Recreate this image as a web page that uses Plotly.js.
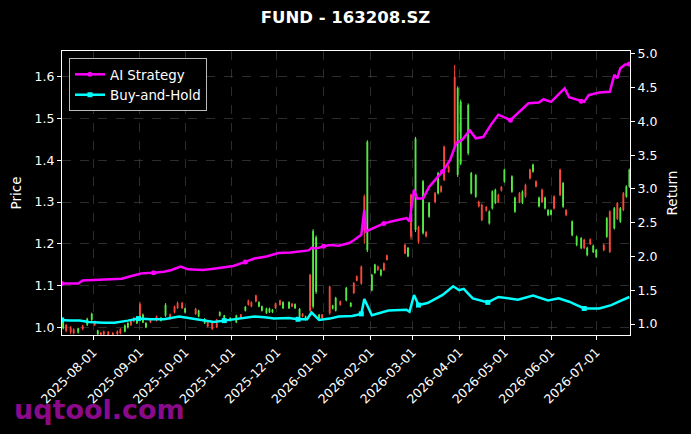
<!DOCTYPE html>
<html>
<head>
<meta charset="utf-8">
<script src="https://cdn.plot.ly/plotly-3.0.1.min.js"></script>
<style>html,body{margin:0;padding:0;background:#000;}#chart{width:691px;height:434px;}</style>
</head>
<body>
<div id="chart"></div>
<script>
const candleDates = ["2025-07-12","2025-07-14","2025-07-17","2025-07-19","2025-07-22","2025-07-25","2025-07-28","2025-07-31",
"2025-08-02","2025-08-04","2025-08-06","2025-08-08","2025-08-11","2025-08-14","2025-08-17","2025-08-19","2025-08-22","2025-08-24","2025-08-26","2025-08-28","2025-08-30",
"2025-09-01","2025-09-03","2025-09-05","2025-09-08","2025-09-12","2025-09-15","2025-09-18","2025-09-21","2025-09-24","2025-09-26","2025-09-29",
"2025-10-01","2025-10-08","2025-10-10","2025-10-14","2025-10-16","2025-10-19","2025-10-22","2025-10-24","2025-10-27","2025-10-31",
"2025-11-04","2025-11-07","2025-11-10","2025-11-12","2025-11-14","2025-11-17","2025-11-19","2025-11-21","2025-11-24","2025-11-26","2025-11-28","2025-11-30",
"2025-12-03","2025-12-05","2025-12-09","2025-12-11","2025-12-13","2025-12-16","2025-12-18","2025-12-20","2025-12-23","2025-12-25","2025-12-27","2025-12-29","2025-12-31",
"2026-01-05","2026-01-07","2026-01-09","2026-01-12","2026-01-16","2026-01-19","2026-01-21","2026-01-23","2026-01-26","2026-01-28","2026-01-30",
"2026-02-02","2026-02-04","2026-02-06","2026-02-08","2026-02-10","2026-02-12","2026-02-24","2026-02-26","2026-02-28",
"2026-03-03","2026-03-05","2026-03-08","2026-03-10","2026-03-12","2026-03-16","2026-03-18","2026-03-20","2026-03-22","2026-03-25","2026-03-29","2026-03-31",
"2026-04-02","2026-04-07","2026-04-09","2026-04-12","2026-04-14","2026-04-16","2026-04-19","2026-04-21","2026-04-23","2026-04-25","2026-04-27","2026-04-29",
"2026-05-01","2026-05-06","2026-05-08","2026-05-11","2026-05-13","2026-05-15","2026-05-18","2026-05-20","2026-05-22","2026-05-24","2026-05-26","2026-05-28","2026-05-30",
"2026-06-01","2026-06-03","2026-06-07","2026-06-09","2026-06-11","2026-06-15","2026-06-18","2026-06-21","2026-06-23","2026-06-25","2026-06-27","2026-06-29",
"2026-07-01","2026-07-06","2026-07-08","2026-07-10","2026-07-13","2026-07-15","2026-07-17","2026-07-19","2026-07-21","2026-07-23"];
const openPx = [0.998,1.005,1.000,0.995,0.988,1.004,1.006,1.018,
1.014,0.984,0.987,0.990,0.989,0.986,0.990,0.995,0.990,1.000,1.015,1.022,1.010,
1.055,1.012,1.000,1.018,1.026,1.016,1.028,1.030,1.050,1.058,1.058,
1.036,1.044,1.026,1.010,1.015,1.010,1.018,1.028,1.020,1.016,
1.012,1.030,1.040,1.064,1.060,1.076,1.050,1.040,1.034,1.036,1.036,1.057,
1.064,1.046,1.046,1.056,1.046,1.026,1.032,1.018,1.125,1.050,1.085,1.022,1.030,
1.097,1.045,1.040,1.062,1.065,1.050,1.106,1.122,1.145,1.313,1.185,
1.089,1.130,1.145,1.125,1.153,1.172,1.197,1.170,1.317,
1.233,1.240,1.226,1.228,1.265,1.321,1.321,1.337,1.432,1.385,1.600,1.365,
1.392,1.417,1.321,1.313,1.300,1.293,1.288,1.249,1.285,1.298,1.317,1.336,
1.349,1.325,1.277,1.321,1.298,1.341,1.377,1.373,1.349,1.290,1.329,1.285,1.269,
1.270,1.313,1.377,1.289,1.280,1.221,1.197,1.190,1.209,1.173,1.210,1.180,
1.169,1.197,1.217,1.277,1.237,1.297,1.253,1.321,1.313,1.337];
const highPx = [1.017,1.008,1.003,0.998,0.999,1.006,1.023,1.035,
1.016,0.994,0.989,0.992,0.991,0.989,0.993,0.998,1.007,1.012,1.018,1.025,1.023,
1.061,1.033,1.012,1.020,1.028,1.025,1.058,1.033,1.052,1.062,1.061,
1.047,1.047,1.042,1.022,1.017,1.013,1.020,1.038,1.030,1.024,
1.030,1.032,1.051,1.066,1.062,1.078,1.062,1.052,1.047,1.047,1.044,1.059,
1.066,1.062,1.062,1.058,1.057,1.046,1.034,1.028,1.128,1.235,1.220,1.032,1.032,
1.100,1.054,1.073,1.064,1.097,1.060,1.108,1.124,1.148,1.318,1.448,
1.128,1.152,1.148,1.140,1.155,1.174,1.200,1.192,1.320,
1.456,1.243,1.353,1.230,1.300,1.324,1.372,1.340,1.435,1.388,1.628,1.577,
1.545,1.536,1.372,1.367,1.303,1.296,1.290,1.280,1.328,1.332,1.320,1.338,
1.380,1.364,1.313,1.324,1.328,1.344,1.380,1.392,1.352,1.313,1.332,1.313,1.283,
1.282,1.316,1.380,1.348,1.283,1.256,1.220,1.216,1.212,1.193,1.213,1.198,
1.188,1.200,1.264,1.280,1.288,1.300,1.288,1.324,1.340,1.380];
const lowPx = [0.995,0.988,0.984,0.983,0.985,0.993,1.003,1.015,
1.003,0.981,0.980,0.981,0.980,0.980,0.981,0.983,0.988,0.997,1.003,1.012,1.008,
1.022,1.010,0.998,1.010,1.014,1.014,1.025,1.018,1.033,1.044,1.044,
1.033,1.030,1.024,1.008,1.000,0.994,0.998,1.026,1.018,1.014,
1.010,1.022,1.038,1.052,1.048,1.060,1.048,1.038,1.032,1.034,1.034,1.044,
1.052,1.044,1.044,1.048,1.044,1.023,1.024,1.016,1.035,1.045,1.080,1.020,1.020,
1.030,1.043,1.038,1.052,1.062,1.048,1.080,1.110,1.102,1.200,1.180,
1.086,1.128,1.135,1.122,1.135,1.160,1.175,1.168,1.210,
1.228,1.200,1.222,1.215,1.262,1.297,1.318,1.322,1.350,1.370,1.428,1.360,
1.388,1.412,1.318,1.310,1.287,1.254,1.277,1.246,1.282,1.295,1.298,1.325,
1.346,1.322,1.274,1.297,1.295,1.310,1.354,1.370,1.335,1.287,1.297,1.282,1.266,
1.268,1.282,1.314,1.286,1.266,1.218,1.194,1.187,1.187,1.170,1.197,1.178,
1.166,1.182,1.214,1.178,1.234,1.257,1.250,1.278,1.310,1.334];
const closePx = [1.012,0.992,0.988,0.986,0.997,0.996,1.020,1.032,
1.006,0.992,0.982,0.983,0.982,0.982,0.984,0.986,1.004,1.010,1.006,1.015,1.020,
1.025,1.030,1.010,1.012,1.016,1.022,1.054,1.020,1.036,1.046,1.046,
1.045,1.032,1.040,1.020,1.002,0.996,1.000,1.036,1.028,1.022,
1.028,1.024,1.049,1.054,1.050,1.062,1.060,1.050,1.045,1.045,1.042,1.046,
1.054,1.060,1.060,1.050,1.055,1.044,1.026,1.026,1.040,1.230,1.215,1.030,1.022,
1.034,1.052,1.070,1.054,1.094,1.058,1.082,1.112,1.105,1.233,1.444,
1.125,1.150,1.138,1.137,1.137,1.162,1.177,1.190,1.217,
1.452,1.205,1.349,1.218,1.297,1.300,1.369,1.325,1.353,1.372,1.432,1.573,
1.540,1.532,1.369,1.364,1.290,1.257,1.280,1.277,1.325,1.329,1.300,1.328,
1.377,1.361,1.310,1.300,1.325,1.313,1.357,1.389,1.337,1.310,1.300,1.310,1.280,
1.280,1.285,1.317,1.345,1.269,1.253,1.217,1.213,1.190,1.190,1.200,1.195,
1.185,1.185,1.261,1.181,1.285,1.260,1.285,1.281,1.337,1.377];

const aiDates = ["2025-07-11","2025-07-16","2025-07-22","2025-07-25","2025-08-05","2025-08-15","2025-08-20","2025-08-27","2025-09-02","2025-09-10","2025-09-17","2025-09-22","2025-09-28",
"2025-10-03","2025-10-13","2025-10-20","2025-10-27","2025-11-02","2025-11-10","2025-11-16","2025-11-24","2025-12-02","2025-12-10","2025-12-15","2025-12-22","2025-12-24","2025-12-27",
"2026-01-01","2026-01-05","2026-01-11","2026-01-18","2026-01-21","2026-01-26","2026-01-28","2026-01-29","2026-02-03","2026-02-10","2026-02-17","2026-02-25","2026-02-27",
"2026-03-02","2026-03-04","2026-03-08","2026-03-12","2026-03-18","2026-03-21","2026-03-26","2026-03-30","2026-04-03","2026-04-08","2026-04-12","2026-04-17","2026-04-22","2026-04-27",
"2026-05-05","2026-05-10","2026-05-17","2026-05-24","2026-05-27","2026-06-01","2026-06-08","2026-06-10","2026-06-13","2026-06-21","2026-06-23","2026-06-26",
"2026-07-03","2026-07-10","2026-07-13","2026-07-15","2026-07-17","2026-07-20","2026-07-23"];
const aiReturn = [1.60,1.595,1.60,1.645,1.655,1.662,1.67,1.715,1.75,1.76,1.775,1.80,1.85,
1.81,1.80,1.82,1.84,1.86,1.92,1.97,2.00,2.05,2.06,2.07,2.09,2.13,2.12,
2.15,2.17,2.16,2.20,2.24,2.32,2.69,2.37,2.42,2.49,2.53,2.57,2.52,
2.99,2.86,2.86,3.03,3.18,3.26,3.43,3.68,3.73,3.87,3.75,3.77,3.95,4.10,
4.02,4.12,4.27,4.28,4.33,4.29,4.44,4.49,4.36,4.30,4.29,4.39,
4.43,4.44,4.69,4.64,4.79,4.84,4.85];

const bhDates = ["2025-07-11","2025-07-16","2025-07-23","2025-07-29","2025-08-08","2025-08-15","2025-08-24","2025-08-31","2025-09-08","2025-09-17","2025-09-27",
"2025-10-03","2025-10-10","2025-10-20","2025-10-27","2025-11-02","2025-11-10","2025-11-16","2025-11-23","2025-11-29","2025-12-09","2025-12-15","2025-12-21","2025-12-24","2025-12-29",
"2026-01-05","2026-01-11","2026-01-20","2026-01-26","2026-01-28","2026-02-02","2026-02-13","2026-02-25","2026-02-27",
"2026-03-02","2026-03-05","2026-03-11","2026-03-21","2026-03-28","2026-04-01","2026-04-04","2026-04-10","2026-04-20","2026-04-27",
"2026-05-10","2026-05-20","2026-05-30","2026-06-06","2026-06-13","2026-06-23","2026-07-03","2026-07-11","2026-07-16","2026-07-23"];
const bhReturn = [1.06,1.05,1.05,1.03,1.02,1.02,1.05,1.08,1.07,1.07,1.11,
1.09,1.07,1.03,1.05,1.07,1.09,1.11,1.10,1.08,1.09,1.07,1.07,1.17,1.06,
1.08,1.11,1.12,1.15,1.37,1.13,1.20,1.21,1.18,
1.43,1.28,1.31,1.43,1.56,1.50,1.52,1.38,1.32,1.40,
1.36,1.42,1.35,1.38,1.33,1.23,1.23,1.28,1.33,1.40];

const monthTicks = ["2025-08-01","2025-09-01","2025-10-01","2025-11-01","2025-12-01","2026-01-01","2026-02-01","2026-03-01","2026-04-01","2026-05-01","2026-06-01","2026-07-01"];

const FONT = "DejaVu Sans";
const everyNth = (arr, n) => arr.filter((_, i) => i % n === 0);

function seriesTraces(name, dates, vals, color, symbol, step) {
  return [
    {type: "scatter", mode: "lines", x: dates, y: vals, yaxis: "y2",
     line: {color: color, width: 2.5}, showlegend: false, hoverinfo: "skip"},
    {type: "scatter", mode: "markers", x: everyNth(dates, step), y: everyNth(vals, step), yaxis: "y2",
     marker: {color: color, symbol: symbol, size: 5}, showlegend: false, hoverinfo: "skip"},
    {type: "scatter", mode: "lines+markers", name: name, x: [null], y: [null], yaxis: "y2",
     line: {color: color, width: 2.5}, marker: {color: color, symbol: symbol, size: 5}, showlegend: true}
  ];
}

const traces = [
  {
    type: "candlestick",
    x: candleDates, open: openPx, high: highPx, low: lowPx, close: closePx,
    increasing: {line: {color: "#55ee44", width: 1}, fillcolor: "#55ee44"},
    decreasing: {line: {color: "#ff4a3d", width: 1}, fillcolor: "#ff4a3d"},
    showlegend: false, yaxis: "y", hoverinfo: "skip"
  }
].concat(
  seriesTraces("AI Strategy", aiDates, aiReturn, "#ff00ff", "circle", 9),
  seriesTraces("Buy-and-Hold", bhDates, bhReturn, "#00ffff", "square", 7)
);

const axisFont = {family: FONT, size: 12.5, color: "#ffffff"};

const layout = {
  width: 691, height: 434,
  paper_bgcolor: "#000000", plot_bgcolor: "#000000",
  margin: {l: 62, r: 61, t: 51, b: 99, pad: 0},
  font: {family: FONT, color: "#ffffff", size: 12},
  boxgap: 0.6,
  title: {text: "FUND - 163208.SZ", font: {family: FONT, size: 16.5, color: "#ffffff", weight: "bold"},
          x: 0.5, xanchor: "center", y: 0.96, yanchor: "middle", yref: "container"},
  showlegend: true,
  legend: {x: 0.0123, y: 0.975, xanchor: "left", yanchor: "top",
           bgcolor: "#000000", bordercolor: "#bbbbbb", borderwidth: 1,
           font: {family: FONT, size: 13.4, color: "#ffffff"},
           tracegroupgap: 0, itemwidth: 30},
  xaxis: {
    type: "date", range: ["2025-07-11 06:00", "2026-07-23 10:00"],
    tickvals: monthTicks, tickformat: "%Y-%m-%d", tickangle: -45,
    tickfont: axisFont, ticks: "outside", ticklen: 4, tickcolor: "#ffffff",
    showgrid: true, gridcolor: "#4a4a4a", griddash: "dash", gridwidth: 0.6,
    showline: true, linecolor: "#ffffff", linewidth: 1, mirror: true,
    zeroline: false, rangeslider: {visible: false}, fixedrange: true
  },
  yaxis: {
    range: [0.9816, 1.6615], dtick: 0.1, tick0: 1.0, tickformat: ".1f",
    tickfont: axisFont, ticks: "outside", ticklen: 4, tickcolor: "#ffffff",
    title: {text: "Price", font: {family: FONT, size: 13.5, color: "#ffffff"}, standoff: 9},
    showgrid: true, gridcolor: "#4a4a4a", griddash: "dash", gridwidth: 0.6,
    showline: true, linecolor: "#ffffff", linewidth: 1, mirror: true, zeroline: false
  },
  yaxis2: {
    overlaying: "y", side: "right",
    range: [0.837, 5.044], dtick: 0.5, tick0: 1.0, tickformat: ".1f",
    tickfont: axisFont, ticks: "outside", ticklen: 4, tickcolor: "#ffffff",
    title: {text: "Return", font: {family: FONT, size: 13.5, color: "#ffffff"}, standoff: 11},
    showgrid: false, showline: true, linecolor: "#ffffff", zeroline: false
  },
  annotations: [{
    text: "uqtool.com", xref: "paper", yref: "paper",
    x: -0.0886, y: -0.2606, xanchor: "left", yanchor: "middle", showarrow: false,
    font: {family: FONT, size: 27, color: "#8a0a8a", weight: "bold"}
  }]
};

Plotly.newPlot("chart", traces, layout, {displayModeBar: false, staticPlot: true});
</script>
</body>
</html>
